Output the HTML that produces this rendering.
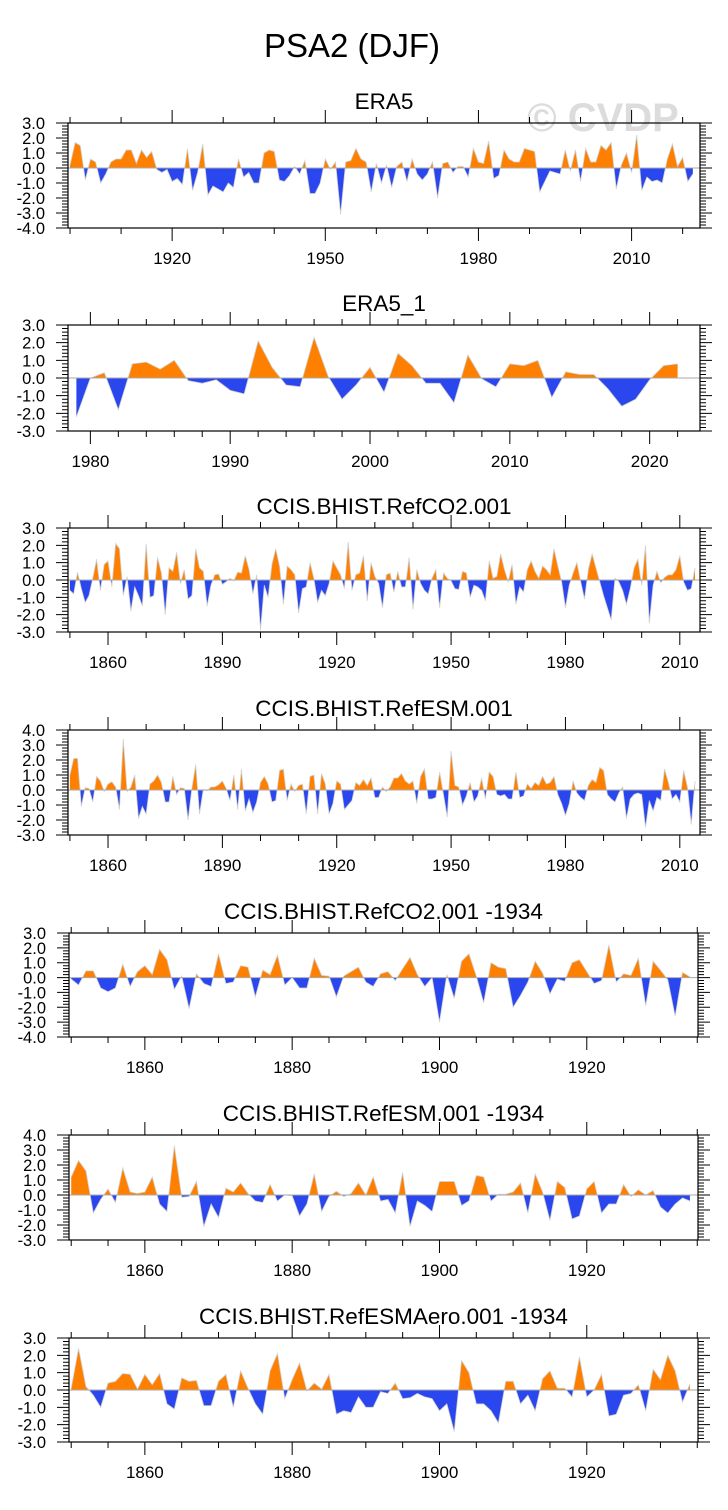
<!DOCTYPE html>
<html><head><meta charset="utf-8"><style>
html,body{margin:0;padding:0;background:#fff;}
svg{display:block;font-family:"Liberation Sans",Arial,sans-serif;}
</style></head><body>
<svg id="fig" width="728" height="1510" viewBox="0 0 728 1510">
<text x="352" y="57" font-size="33" text-anchor="middle">PSA2 (DJF)</text>
<text x="603" y="131" font-size="40" font-weight="bold" text-anchor="middle" fill="#dcdcdc">© CVDP</text>
</svg>
<script>
// ---- data ----
const era5Start = 1900;
const era5Values = [0.2,1.7,1.5,-0.8,0.6,0.4,-1.0,-0.4,0.4,0.6,0.6,1.2,1.2,0.3,1.2,0.7,1.1,-0.1,-0.3,-0.1,
-0.9,-0.7,-1.1,1.3,-1.5,-0.3,1.6,-1.8,-1.2,-1.4,-1.6,-1.0,-1.3,0.6,-0.6,-0.3,-1.0,-1.0,1.0,1.2,
1.1,-0.8,-0.9,-0.5,0.1,-0.4,0.5,-1.7,-1.7,-1.0,0.6,-0.1,0.4,-3.1,0.4,0.5,1.3,0.6,0.4,-1.6,
0.3,-1.0,0.2,-1.3,0.1,0.4,-0.9,0.6,-0.4,-0.8,-0.4,0.4,-2.0,0.3,0.4,-0.3,0.1,0.1,-0.6,1.3,
0.4,0.3,1.8,-0.7,-0.5,1.2,0.6,0.4,0.4,1.3,1.2,1.1,-1.6,-0.9,-0.2,-0.3,-0.4,1.2,-0.2,1.2,
-0.9,1.3,0.4,0.4,1.5,1.2,1.7,-1.4,0.2,1.0,-0.3,2.2,-1.5,-0.6,-0.9,-0.8,-1.0,0.6,1.6,0.1,
0.7,-0.9,-0.4];
const era5bStart = 1979;
const era5bValues = [-2.2,0.0,0.3,-1.8,0.8,0.9,0.5,1.0,-0.15,-0.3,-0.1,-0.7,-0.9,2.1,0.6,-0.4,-0.5,2.3,0.1,-1.2,
-0.4,0.6,-0.8,1.4,0.7,-0.3,-0.3,-1.4,1.3,-0.05,-0.5,0.8,0.7,1.0,-1.1,0.35,0.2,0.2,-0.6,-1.6,
-1.2,-0.1,0.7,0.8];
const co2Start = 1850;
const co2Values = [-0.6,-0.8,0.45,-0.5,-1.3,-0.9,0.1,1.2,-0.6,0.9,1.1,-0.4,2.1,1.8,-0.9,0.2,-1.8,-0.4,-0.9,-1.5,
2.1,-1.0,-0.9,1.3,0.4,-2.0,0.7,0.5,1.6,-0.2,0.6,-1.1,-0.9,1.8,0.7,0.5,-1.5,-0.3,0.3,0.35,
-0.25,-0.1,0.1,-0.05,0.45,0.4,1.4,0.6,-0.8,0.3,-2.9,-0.3,-1.0,0.9,1.8,0.8,-1.4,0.8,0.6,0.3,
-1.9,-0.5,-0.4,1.0,0.1,-1.3,-0.6,-0.9,-0.2,1.1,0.7,0.3,-0.5,2.2,-0.6,0.3,0.4,1.4,-1.2,1.0,
0.2,-0.2,-1.6,0.3,0.4,-0.7,0.5,-0.4,-0.4,1.3,-1.7,0.6,-0.2,-0.6,-0.8,0.1,0.6,-1.6,0.4,0.1,
-0.05,-0.5,-0.55,0.5,0.4,-1.0,-0.3,-0.4,-0.6,-1.2,1.1,0.1,0.2,1.5,0.6,-0.1,0.9,-1.4,-0.4,-0.7,
0.6,1.1,0.5,0.1,0.8,0.6,0.3,1.8,0.8,-0.1,-1.6,-0.3,0.4,1.0,-0.1,-1.1,0.6,1.5,0.7,-0.1,
-0.9,-1.6,-2.3,0.1,-0.1,-0.6,-1.4,-0.5,0.7,1.2,-0.3,2.0,-2.5,-0.3,0.5,-0.15,0.15,0.3,0.3,0.6,
1.4,-0.1,-0.6,-0.5,0.7];
const esmStart = 1850;
const esmValues = [1.0,2.1,2.1,-1.1,0.15,0.1,-0.8,0.9,0.6,-0.1,0.4,0.55,0.2,-1.3,3.4,-0.1,0.2,1.0,-1.9,-1.1,
-1.6,0.4,0.6,1.0,0.5,-0.8,-0.8,0.9,-0.3,0.15,0.1,-2.0,0.1,1.7,-1.6,0.05,-0.05,0.2,0.2,0.35,
0.6,0.1,-0.7,1.0,-1.3,1.4,-1.4,-0.6,-1.5,-0.8,0.5,0.9,0.4,-0.8,-0.7,1.3,1.4,-0.7,0.4,-0.1,
0.3,0.4,-1.6,0.9,1.0,-1.6,1.1,0.4,-1.6,-0.9,0.6,0.4,-1.3,-1.0,-0.7,0.5,0.3,0.7,0.3,0.8,
-0.5,-0.5,0.2,-0.1,0.2,0.8,0.8,1.1,0.6,0.4,0.6,-0.9,0.9,1.4,-0.6,-0.6,-0.5,1.2,-0.3,-1.8,
2.6,0.3,0.2,-1.0,-0.4,0.5,-0.8,-0.4,0.8,-0.6,1.2,0.9,-0.3,-0.4,-0.3,-0.6,-0.6,1.2,-0.5,-0.4,
0.4,0.1,0.5,0.3,0.9,0.4,0.5,0.9,-0.3,-0.9,-1.7,-0.9,0.6,-0.2,-0.5,-0.7,0.3,0.7,0.5,1.5,
1.3,-0.3,-0.6,-0.8,-0.2,0.2,-1.9,-0.6,-0.3,-0.2,-0.3,-2.5,-0.7,-1.4,-0.5,-0.7,1.4,0.5,-0.6,-0.3,
-0.8,1.3,0.2,-2.3,0.6];
const co2bStart = 1850;
const co2bValues = [-0.1,-0.5,0.45,0.45,-0.7,-0.95,-0.7,0.9,-0.6,0.4,0.8,0.2,1.9,1.2,-0.8,0.1,-2.1,0.25,-0.4,-0.6,
1.6,-0.4,-0.3,0.8,0.7,-1.3,0.5,0.2,1.5,-0.5,0.0,-0.7,-0.7,1.3,0.15,0.1,-1.3,0.1,0.4,0.7,
-0.3,-0.6,0.25,0.4,-0.2,0.6,1.35,0.2,-0.6,0.0,-3.0,0.2,-1.4,1.1,1.6,0.1,-1.7,1.0,0.7,0.6,
-2.0,-1.2,-0.3,1.1,0.3,-1.1,-0.1,-0.25,1.0,1.2,0.4,-0.4,-0.2,2.2,-0.3,0.25,0.15,1.3,-1.9,1.1,
0.5,-0.15,-2.6,0.35,0.05];
const esmbStart = 1850;
const esmbValues = [1.2,2.3,1.6,-1.2,-0.3,0.4,-0.5,1.8,0.2,0.1,0.2,1.2,-0.6,-1.1,3.3,-0.15,-0.1,0.9,-2.1,-0.6,
-1.5,0.45,0.2,0.8,0.1,-0.4,-0.5,0.7,-0.4,0.0,-0.05,-1.4,-0.6,1.4,-1.1,-0.1,0.25,-0.1,0.1,0.8,
0.0,1.2,-0.4,-0.3,-1.2,1.5,-2.1,-0.4,-0.7,-1.1,0.9,0.9,0.9,-0.7,-0.4,1.3,1.2,-0.4,0.05,0.05,
0.2,0.8,-1.2,1.4,0.2,-1.7,0.9,0.5,-1.6,-1.4,0.4,0.9,-1.2,-0.6,-0.6,0.7,-0.1,0.35,0.0,0.3,
-0.8,-1.2,-0.6,-0.2,-0.4];
const aeroStart = 1850;
const aeroValues = [0.1,2.4,0.2,-0.3,-1.0,0.4,0.5,0.95,0.9,0.05,0.9,0.3,0.95,-0.8,-1.1,0.7,0.5,0.55,-0.9,-0.9,
0.5,0.9,-1.0,1.1,0.1,-0.8,-1.4,1.1,2.1,-0.5,0.6,1.55,-0.05,0.4,0.05,0.9,-1.4,-1.2,-1.3,-0.4,
-1.0,-1.0,-0.1,-0.2,0.4,-0.5,-0.45,-0.2,-0.4,-0.5,-1.2,-0.8,-2.4,1.7,1.0,-0.8,-0.8,-1.2,-1.9,0.5,
0.5,-0.8,-0.3,-1.2,0.65,1.1,0.1,0.1,-0.4,1.9,-0.4,0.0,0.9,-1.5,-1.4,-0.3,-0.2,0.3,-1.2,1.2,
0.6,2.0,1.1,-0.7,0.35];
const panelTitles = ["ERA5","ERA5_1","CCIS.BHIST.RefCO2.001","CCIS.BHIST.RefESM.001","CCIS.BHIST.RefCO2.001 -1934","CCIS.BHIST.RefESM.001 -1934","CCIS.BHIST.RefESMAero.001 -1934"];

// ---- layout ----
const NS="http://www.w3.org/2000/svg";
const svg=document.getElementById('fig');
function mk(tag,attrs,parent){const e=document.createElementNS(NS,tag);for(const k in attrs)e.setAttribute(k,attrs[k]);(parent||svg).appendChild(e);return e;}
const panels=[
 {slug:'era5',start:era5Start,vals:era5Values,ymin:-4,ymax:3,top:123,bot:228,left:68,right:700,xmin:1899.6,xmax:2023.4,maj:30,majStart:1920,minr:10},
 {slug:'era5-1',start:era5bStart,vals:era5bValues,ymin:-3,ymax:3,top:325,bot:431,left:68,right:700,xmin:1978.4,xmax:2023.6,maj:10,majStart:1980,minr:2},
 {slug:'refco2',start:co2Start,vals:co2Values,ymin:-3,ymax:3,top:528,bot:632,left:68,right:700,xmin:1849.5,xmax:2015.3,maj:30,majStart:1860,minr:10},
 {slug:'refesm',start:esmStart,vals:esmValues,ymin:-3,ymax:4,top:730,bot:835,left:68,right:700,xmin:1849.5,xmax:2015.3,maj:30,majStart:1860,minr:10},
 {slug:'refco2-1934',start:co2bStart,vals:co2bValues,ymin:-4,ymax:3,top:933,bot:1037,left:69,right:698,xmin:1849.7,xmax:1935.1,maj:20,majStart:1860,minr:5},
 {slug:'refesm-1934',start:esmbStart,vals:esmbValues,ymin:-3,ymax:4,top:1135,bot:1240,left:69,right:698,xmin:1849.7,xmax:1935.1,maj:20,majStart:1860,minr:5},
 {slug:'refesmaero-1934',start:aeroStart,vals:aeroValues,ymin:-3,ymax:3,top:1338,bot:1442,left:69,right:698,xmin:1849.7,xmax:1935.1,maj:20,majStart:1860,minr:5}
];
panels.forEach((p,pi)=>{
 const g=mk('g',{});
 
 
 const xs=y=>p.left+(y-p.xmin)/(p.xmax-p.xmin)*(p.right-p.left);
 const ys=v=>p.bot-(v-p.ymin)/(p.ymax-p.ymin)*(p.bot-p.top);
 const t=mk('text',{x:(p.left+p.right)/2,y:p.top-14,'font-size':22.5,'text-anchor':'middle'},g);
 t.textContent=panelTitles[pi];
 
 
 const z=ys(0);
 const x0=xs(p.start), x1=xs(p.start+p.vals.length-1);
 let d='M'+x0+','+z;
 p.vals.forEach((v,i)=>{d+=' L'+xs(p.start+i).toFixed(2)+','+ys(v).toFixed(2);});
 d+=' L'+x1+','+z+' Z';
 const cid='c'+pi;
 const defs=mk('defs',{},g);
 const cpA=mk('clipPath',{id:cid+'a'},defs); mk('rect',{x:p.left,y:p.top,width:p.right-p.left,height:z-p.top},cpA);
 const cpB=mk('clipPath',{id:cid+'b'},defs); mk('rect',{x:p.left,y:z,width:p.right-p.left,height:p.bot-z},cpB);
 const pos=mk('path',{d:d,fill:'#ff8000','clip-path':'url(#'+cid+'a)'},g);
 
 
 const neg=mk('path',{d:d,fill:'#2a46ee','clip-path':'url(#'+cid+'b)'},g);
 
 
 let ld='';
 p.vals.forEach((v,i)=>{ld+=(i?' L':'M')+xs(p.start+i).toFixed(2)+','+ys(v).toFixed(2);});
 const ln=mk('path',{d:ld,fill:'none',stroke:'#d0d0d0','stroke-width':0.8},g);
 
 
 const zl=mk('line',{x1:p.left,x2:p.right,y1:z,y2:z,stroke:'#aaaaaa','stroke-width':1},g);
 
 
 const box=mk('rect',{x:p.left,y:p.top,width:p.right-p.left,height:p.bot-p.top,fill:'none',stroke:'#000','stroke-width':1.2},g);
 
 
 let td='';
 for(let k=Math.round(p.ymin*5);k<=Math.round(p.ymax*5);k++){
  const v=k/5, yy=ys(v).toFixed(2), major=(k%5===0), L=major?12:6;
  td+=`M${p.left},${yy}h${-L}M${p.right},${yy}h${L}`;
  if(major){
   const lab=mk('text',{x:p.left-23,y:(+yy+6),'font-size':16.5,'text-anchor':'end'},g);
   lab.textContent=v.toFixed(1);
   
   
  }
 }
 const firstMin=Math.ceil(p.xmin/p.minr)*p.minr;
 for(let yr=firstMin;yr<=p.xmax;yr+=p.minr){
  const xx=xs(yr).toFixed(2), major=((yr-p.majStart)%p.maj===0), L=major?13:6;
  td+=`M${xx},${p.bot}v${L}M${xx},${p.top}v${-L}`;
  if(major){
   const lab=mk('text',{x:xx,y:p.bot+36,'font-size':17,'text-anchor':'middle'},g);
   lab.textContent=yr;
   
   
  }
 }
 const tk=mk('path',{d:td,stroke:'#000','stroke-width':1,fill:'none'},g);
 
 
});
</script>
</body></html>
